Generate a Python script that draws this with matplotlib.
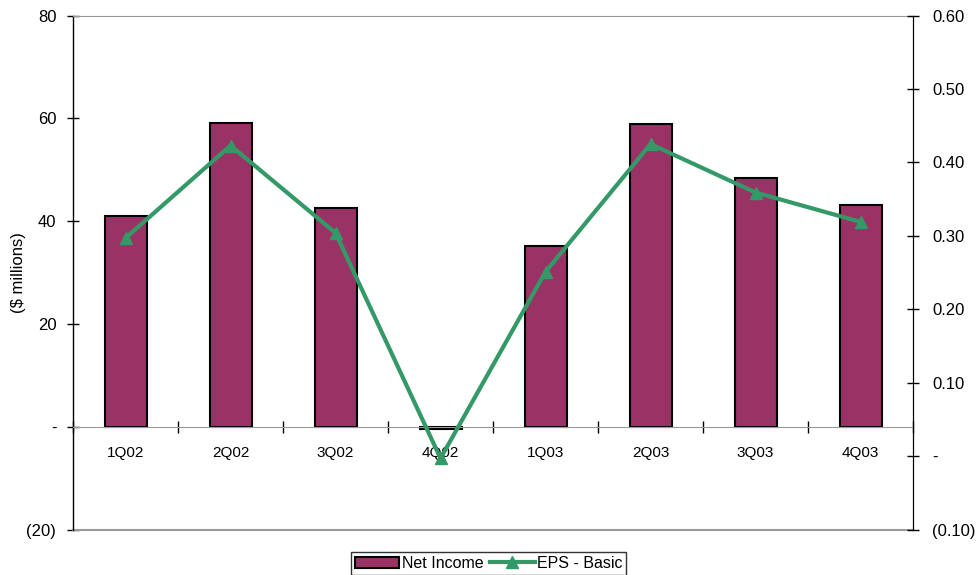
import numpy as np
import matplotlib.pyplot as plt

plt.rcParams['font.family'] = ['Liberation Sans', 'DejaVu Sans']

# Quarterly results
quarters = ['1Q02', '2Q02', '3Q02', '4Q02', '1Q03', '2Q03', '3Q03', '4Q03']
net_income = [41.0, 59.0, 42.5, -0.4, 35.2, 58.9, 48.4, 43.2]      # $ millions
eps_basic = [0.297, 0.423, 0.304, -0.003, 0.251, 0.425, 0.359, 0.319]

left_ticks = [-20, 0, 20, 40, 60, 80]
left_labels = ['(20)', '-', '20', '40', '60', '80']
right_ticks = [-0.10, 0.0, 0.10, 0.20, 0.30, 0.40, 0.50, 0.60]
right_labels = ['(0.10)', '-', '0.10', '0.20', '0.30', '0.40', '0.50', '0.60']

bar_color = '#993366'
line_color = '#339966'
frame_gray = '#999999'

fig = plt.figure(figsize=(9.79, 5.75), dpi=100)
ax = fig.add_axes([0.0746, 0.079, 0.858, 0.894])

x = np.arange(len(quarters))
bars = ax.bar(x, net_income, width=0.4, color=bar_color, edgecolor='black',
              linewidth=1.5, zorder=3, label='Net Income')

ax.set_xlim(-0.5, len(quarters) - 0.5)
ax.set_ylim(-20, 80)
ax.set_yticks(left_ticks)
ax.set_yticklabels(left_labels, fontsize=12)
ax.tick_params(axis='y', direction='inout', length=8, width=1, pad=8)
ax.set_ylabel('($ millions)', fontsize=12)
ax.yaxis.set_label_coords(-0.056, 0.5)

# category axis sits on the zero line
ax.spines['bottom'].set_position(('data', 0))
ax.spines['bottom'].set_color(frame_gray)
ax.spines['bottom'].set_zorder(4)
ax.spines['top'].set_color(frame_gray)
ax.spines['left'].set_linewidth(1.0)
ax.set_xticks(x)
ax.set_xticklabels(quarters, fontsize=11)
ax.tick_params(axis='x', which='major', length=0, pad=14)
ax.set_xticks(np.arange(len(quarters) + 1) - 0.5, minor=True)
ax.tick_params(axis='x', which='minor', direction='inout', length=8, width=1,
               color='black')
ax.axhline(-20, color=frame_gray, linewidth=1.5, clip_on=False, zorder=2)

ax2 = ax.twinx()
ax2.set_ylim(-0.10, 0.60)
ax2.set_yticks(right_ticks)
ax2.set_yticklabels(right_labels, fontsize=12)
ax2.tick_params(axis='y', direction='inout', length=8, width=1, pad=10)
ax2.spines['top'].set_visible(False)
ax2.spines['bottom'].set_visible(False)
ax2.spines['left'].set_visible(False)
line, = ax2.plot(x, eps_basic, color=line_color, linewidth=3, marker='^',
                 markersize=9, label='EPS - Basic', zorder=5)

leg = fig.legend([bars, line], ['Net Income', 'EPS - Basic'], ncol=2,
                 loc='upper center', bbox_to_anchor=(0.499, 0.04),
                 frameon=True, fancybox=False, edgecolor='black',
                 fontsize=11.5, handlelength=2.8, handletextpad=0.15,
                 columnspacing=0.4, borderpad=0.25, borderaxespad=0)
leg.get_frame().set_linewidth(1.0)

fig.savefig('out.png', dpi=100)
